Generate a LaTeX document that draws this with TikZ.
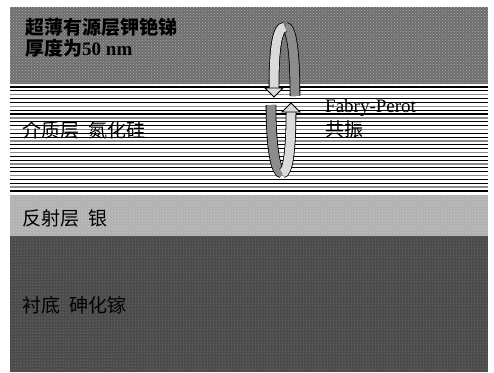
\documentclass[tikz,border=0pt]{standalone}
\usepackage{fontspec}
\setmainfont{Liberation Serif}
\newfontfamily\cjk{Noto Sans CJK SC}
\usetikzlibrary{patterns}

\definecolor{activegray}{HTML}{6E6E6E}
\definecolor{silvergray}{HTML}{B0B0B0}
\definecolor{substrategray}{HTML}{4A4A4A}
\definecolor{lightband}{HTML}{DADADA}
\definecolor{darkband}{HTML}{8C8C8C}

\begin{document}
\begin{tikzpicture}[x=1pt,y=-1pt,
  lbl/.style={anchor=west,inner sep=0pt,font=\fontsize{19}{22}\selectfont},
  band/.style={double=#1,double distance=9pt,line width=0.8pt,draw=black},
  head/.style={fill=#1,draw=black,line width=0.8pt,line join=miter}]
\useasboundingbox (0,0) rectangle (494,372);

% layers
\fill[activegray] (10,7) rectangle (488,84);
\fill[pattern=crosshatch dots,pattern color=gray!65] (10,7) rectangle (488,84);
\fill[silvergray] (10,195) rectangle (488,236);
\fill[pattern=crosshatch dots,pattern color=white!80!black] (10,195) rectangle (488,236);
\fill[substrategray] (10,236) rectangle (488,372);
\fill[pattern=dots,pattern color=gray!80] (10,236) rectangle (488,372);

% dielectric stack
\foreach \i in {0,...,27} {
  \pgfmathsetmacro{\yy}{87+\i*3.85}
  \pgfmathtruncatemacro{\k}{mod(\i,3)}
  \ifnum\k=2
    \draw[darkband,line width=1.4pt] (10,\yy) -- (488,\yy);
  \else
    \draw[black,line width=1.1pt] (10,\yy) -- (488,\yy);
  \fi
}

% upper loop
\draw[band=darkband] (295,96) .. controls (295,55) and (292,27) .. (285,27);
\draw[band=lightband] (285,27) .. controls (276,27) and (274,55) .. (274,88);
\draw[head=lightband] (265,88) -- (283,88) -- (274,97) -- cycle;

% lower loop
\draw[band=darkband] (271,105) .. controls (271,150) and (276,173) .. (282,173);
\draw[band=lightband] (282,173) .. controls (288,173) and (291,150) .. (291,112);
\draw[head=lightband] (282,112) -- (300,112) -- (291,103) -- cycle;

% labels
\node[lbl] (active) at (25,27) {\textbf{\cjk 超薄有源层钾铯锑}};
\node[lbl] (thick) at (25,48) {\textbf{{\cjk 厚度为}50 nm}};
\node[lbl] (dielec) at (22,130) {\cjk 介质层\hspace{0.5em}氮化硅};
\node[lbl] (fp) at (325,108) {Fabry-Perot};
\node[lbl] (fpcn) at (325,129) {\cjk 共振};
\node[lbl] (mirror) at (22,218) {\cjk 反射层\hspace{0.5em}银};
\node[lbl] (sub) at (22,305) {\cjk 衬底\hspace{0.5em}砷化镓};
\end{tikzpicture}
\end{document}
